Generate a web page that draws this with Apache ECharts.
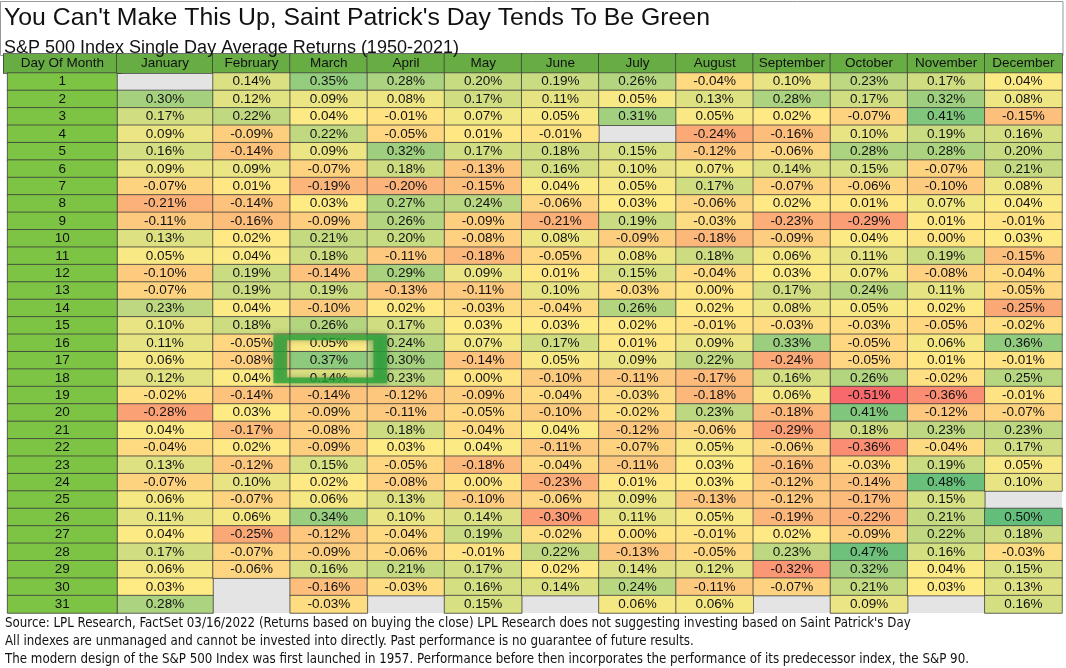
<!DOCTYPE html>
<html><head><meta charset="utf-8">
<script src="https://cdn.jsdelivr.net/npm/echarts@6/dist/echarts.min.js"></script>
<style>html,body{margin:0;padding:0;background:#fff}#c{width:1066px;height:668px}</style>
</head><body><div id="c"></div>
<script>
const titleText = "You Can't Make This Up, Saint Patrick's Day Tends To Be Green";
const subtitleText = "S&P 500 Index Single Day Average Returns (1950-2021)";
const dayHeader = "Day Of Month";
const months = ['January','February','March','April','May','June','July','August','September','October','November','December'];
const days = ['1','2','3','4','5','6','7','8','9','10','11','12','13','14','15','16','17','18','19','20','21','22','23','24','25','26','27','28','29','30','31'];
const footnotes = [
  "Source: LPL Research, FactSet 03/16/2022 (Returns based on buying the close) LPL Research does not suggesting investing based on Saint Patrick's Day",
  "All indexes are unmanaged and cannot be invested into directly. Past performance is no guarantee of future results.",
  "The modern design of the S&P 500 Index was first launched in 1957. Performance before then incorporates the performance of its predecessor index, the S&P 90."
];
const highlightMonth = 'March';
const highlightDay = '17';

// average returns (%) by day of month, null = no data
const january   = [null,0.30,0.17,0.09,0.16,0.09,-0.07,-0.21,-0.11,0.13,0.05,-0.10,-0.07,0.23,0.10,0.11,0.06,0.12,-0.02,-0.28,0.04,-0.04,0.13,-0.07,0.06,0.11,0.04,0.17,0.06,0.03,0.28];
const february  = [0.14,0.12,0.22,-0.09,-0.14,0.09,0.01,-0.14,-0.16,0.02,0.04,0.19,0.19,0.04,0.18,-0.05,-0.08,0.04,-0.14,0.03,-0.17,0.02,-0.12,0.10,-0.07,0.06,-0.25,-0.07,-0.06,null,null];
const march     = [0.35,0.09,0.04,0.22,0.09,-0.07,-0.19,0.03,-0.09,0.21,0.18,-0.14,0.19,-0.10,0.26,0.05,0.37,0.14,-0.14,-0.09,-0.08,-0.09,0.15,0.02,0.06,0.34,-0.12,-0.09,0.16,-0.16,-0.03];
const april     = [0.28,0.08,-0.01,-0.05,0.32,0.18,-0.20,0.27,0.26,0.20,-0.11,0.29,-0.13,0.02,0.17,0.24,0.30,0.23,-0.12,-0.11,0.18,0.03,-0.05,-0.08,0.13,0.10,-0.04,-0.06,0.21,-0.03,null];
const may       = [0.20,0.17,0.07,0.01,0.17,-0.13,-0.15,0.24,-0.09,-0.08,-0.18,0.09,-0.11,-0.03,0.03,0.07,-0.14,0.00,-0.09,-0.05,-0.04,0.04,-0.18,0.00,-0.10,0.14,0.19,-0.01,0.17,0.16,0.15];
const june      = [0.19,0.11,0.05,-0.01,0.18,0.16,0.04,-0.06,-0.21,0.08,-0.05,0.01,0.10,-0.04,0.03,0.17,0.05,-0.10,-0.04,-0.10,0.04,-0.11,-0.04,-0.23,-0.06,-0.30,-0.02,0.22,0.02,0.14,null];
const july      = [0.26,0.05,0.31,null,0.15,0.10,0.05,0.03,0.19,-0.09,0.08,0.15,-0.03,0.26,0.02,0.01,0.09,-0.11,-0.03,-0.02,-0.12,-0.07,-0.11,0.01,0.09,0.11,0.00,-0.13,0.14,0.24,0.06];
const august    = [-0.04,0.13,0.05,-0.24,-0.12,0.07,0.17,-0.06,-0.03,-0.18,0.18,-0.04,0.00,0.02,-0.01,0.09,0.22,-0.17,-0.18,0.23,-0.06,0.05,0.03,0.03,-0.13,0.05,-0.01,-0.05,0.12,-0.11,0.06];
const september = [0.10,0.28,0.02,-0.16,-0.06,0.14,-0.07,0.02,-0.23,-0.09,0.06,0.03,0.17,0.08,-0.03,0.33,-0.24,0.16,0.06,-0.18,-0.29,-0.06,-0.16,-0.12,-0.12,-0.19,0.02,0.23,-0.32,-0.07,null];
const october   = [0.23,0.17,-0.07,0.10,0.28,0.15,-0.06,0.01,-0.29,0.04,0.11,0.07,0.24,0.05,-0.03,-0.05,-0.05,0.26,-0.51,0.41,0.18,-0.36,-0.03,-0.14,-0.17,-0.22,-0.09,0.47,0.32,0.21,0.09];
const november  = [0.17,0.32,0.41,0.19,0.28,-0.07,-0.10,0.07,0.01,0.00,0.19,-0.08,0.11,0.02,-0.05,0.06,0.01,-0.02,-0.36,-0.12,0.23,-0.04,0.19,0.48,0.15,0.21,0.22,0.16,0.04,0.03,null];
const december  = [0.04,0.08,-0.15,0.16,0.20,0.21,0.08,0.04,-0.01,0.03,-0.15,-0.04,-0.05,-0.25,-0.02,0.36,-0.01,0.25,-0.01,-0.07,0.23,0.17,0.05,0.10,null,0.50,0.18,-0.03,0.15,0.13,0.16];

const monthValues = [january,february,march,april,may,june,july,august,september,october,november,december];

// ---- styling ----
const FONT = '"Liberation Sans", Arial, sans-serif';
const NARROW = '"Liberation Sans Narrow", "Arial Narrow", "DejaVu Sans Condensed", sans-serif';
const headerColor = '#68ad44';
const dayColor = '#7dc444';
const blankColor = '#e4e4e4';
const lineColor = '#3c3c3c';

const all = monthValues.flat().filter(v => v != null).sort((a,b)=>a-b);
const vMin = all[0], vMax = all[all.length-1];
const vMid = all.length % 2 ? all[(all.length-1)/2] : (all[all.length/2-1] + all[all.length/2]) / 2;
const RED=[248,105,107], YEL=[255,235,132], GRN=[99,190,123];
function mix(a,b,t){return 'rgb('+a.map((x,i)=>Math.round(x+(b[i]-x)*t)).join(',')+')';}
const stops = [];
const NS = 80;
for (let i=0;i<=NS;i++){
  const v = vMin + (vMax-vMin)*i/NS;
  stops.push(v<=vMid ? mix(RED,YEL,(v-vMin)/(vMid-vMin)) : mix(YEL,GRN,(v-vMid)/(vMax-vMid)));
}

const janData = [];
january.forEach((v,i)=>{ if(v!=null) janData.push([0,i,v]); });
const restData = [];
monthValues.slice(1).forEach((arr,m)=>arr.forEach((v,i)=>{ if(v!=null) restData.push([m,i,v]); }));
const dayData = days.map((d,i)=>[0,i,Number(d)]);

const TOP = 73, H = 540;
const grids = [
  {left:0, top:TOP, width:117, height:H},
  {left:117, top:TOP, width:96, height:H, show:true, backgroundColor:blankColor, borderWidth:0},
  {left:213, top:TOP, width:849, height:H, show:true, backgroundColor:blankColor, borderWidth:0}
];
function headerAxis(gi, cats, bw){
  return {gridIndex:gi, type:'category', position:'top', data:cats,
    axisTick:{show:false}, axisLine:{show:false}, splitLine:{show:false},
    axisLabel:{interval:0, margin:0, formatter: v => '{h|'+v+'}',
      rich:{h:{width:bw, height:19, lineHeight:19, align:'center', backgroundColor:headerColor,
        borderColor:lineColor, borderWidth:0.8, fontSize:13.5, color:'#111', fontFamily:FONT}}}};
}
const cellLabel = {show:true, fontSize:13.5, color:'#111', fontFamily:FONT,
  formatter: p => p.value[2].toFixed(2)+'%'};

const chart = echarts.init(document.getElementById('c'), null, {renderer:'canvas'});
chart.setOption({
  animation:false,
  backgroundColor:'#fff',
  title:[
    {text:titleText, subtext:subtitleText, left:4, top:5, padding:0, itemGap:6,
      textStyle:{fontSize:24.8, fontWeight:'normal', color:'#111', fontFamily:FONT, lineHeight:27},
      subtextStyle:{fontSize:18, color:'#111', fontFamily:FONT, lineHeight:20}},
    {text:footnotes.join('\n'), left:5, top:614, padding:0,
      textStyle:{fontSize:13.2, fontWeight:'normal', color:'#111', fontFamily:NARROW, lineHeight:18.3}}
  ],
  graphic:[{type:'rect', shape:{x:0.5,y:1.5,width:1062.5,height:54}, style:{fill:'none', stroke:'#999', lineWidth:1}, z:-1}],
  grid:grids,
  xAxis:[headerAxis(0,[dayHeader],117), headerAxis(1,[months[0]],96), headerAxis(2,months.slice(1),77.2)],
  yAxis:[0,1,2].map(g=>({gridIndex:g, type:'category', data:days, inverse:true, show:false})),
  visualMap:{type:'continuous', show:false, seriesIndex:[0,1], dimension:2, min:vMin, max:vMax, inRange:{color:stops}},
  series:[
    {type:'heatmap', xAxisIndex:1, yAxisIndex:1, data:janData, label:cellLabel,
      itemStyle:{borderColor:lineColor, borderWidth:0.8}, emphasis:{disabled:true}},
    {type:'heatmap', xAxisIndex:2, yAxisIndex:2, data:restData, label:cellLabel,
      itemStyle:{borderColor:lineColor, borderWidth:0.8}, emphasis:{disabled:true}},
    {type:'heatmap', xAxisIndex:0, yAxisIndex:0, data:dayData,
      label:{show:true, fontSize:13.5, color:'#111', fontFamily:FONT, formatter:p=>String(p.value[2])},
      itemStyle:{color:dayColor, borderColor:lineColor, borderWidth:0.8}, emphasis:{disabled:true}},
    {type:'scatter', xAxisIndex:2, yAxisIndex:2, z:10, data:[[highlightMonth, highlightDay]],
      symbol:'rect', symbolSize:[100,43], symbolOffset:[1.5,-1.5], silent:true,
      itemStyle:{color:'rgba(0,0,0,0)', borderColor:'#27a23a', borderWidth:9,
        shadowBlur:6, shadowColor:'rgba(0,0,0,0.35)'}}
  ]
});
</script></body></html>
